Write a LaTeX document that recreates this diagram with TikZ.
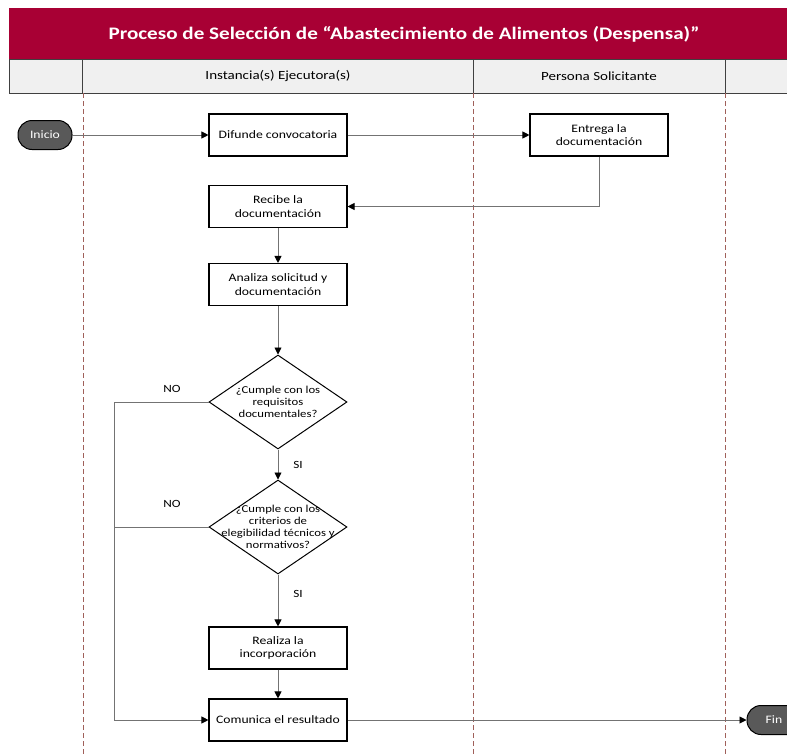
\documentclass[tikz,border=0pt]{standalone}
\usepackage{fontspec}
\setmainfont{Carlito}[FakeStretch=1.2]
\usetikzlibrary{shapes.geometric,arrows.meta}
\definecolor{vino}{RGB}{168,0,52}
\definecolor{carril}{RGB}{160,96,90}
\definecolor{cabeza}{RGB}{240,240,240}
\definecolor{terminal}{RGB}{89,89,89}
\definecolor{linea}{RGB}{115,115,115}
\begin{document}
\begin{tikzpicture}[x=1pt,y=-1pt,
    proceso/.style={draw=black,line width=1.1pt,fill=white,minimum width=138pt,minimum height=42pt,inner sep=2pt,align=center,font=\fontsize{11.4}{13.5}\selectfont},
    limite/.style={draw=black,line width=1pt,fill=terminal,rounded corners=14pt,minimum width=54pt,minimum height=29pt,text=white,font=\fontsize{11.4}{13}\selectfont},
    decision/.style={diamond,draw=black,line width=1pt,minimum width=138pt,minimum height=94pt,inner sep=0pt},
    texto/.style={align=center,font=\fontsize{10.6}{12}\selectfont},
    etiqueta/.style={font=\fontsize{11}{13}\selectfont},
    flecha/.style={draw=linea,line width=0.9pt,-{Triangle[length=7pt,width=7pt,color=black]}},
    linea/.style={draw=linea,line width=0.9pt}]  % seleccion despensa
	\clip (0,0) rectangle (787,755);
	% encabezado
	\fill[vino] (9,8) rectangle (787,59);
	\node[text=white,font=\fontsize{17.6}{21}\bfseries\selectfont] (titulo) at (404,34) {Proceso de Selección de “Abastecimiento de Alimentos (Despensa)”};
	\foreach \a/\b in {9/82,82/473,473/725,725/795}
		\draw[fill=cabeza,draw=black!75,line width=1pt] (\a,59) rectangle (\b,93);
	\node[font=\fontsize{12.5}{14}\selectfont] (instancia) at (278,76) {Instancia(s) Ejecutora(s)};
	\node[font=\fontsize{12.5}{14}\selectfont] (persona) at (599,76) {Persona Solicitante};
	\foreach \x in {83,473,725}
		\draw[carril,line width=0.8pt,dash pattern=on 5pt off 3pt] (\x,93) -- (\x,755);
	% nodos
	\node[limite] (inicio) at (45,135) {Inicio};
	\node[proceso] (difunde) at (278,135) {Difunde convocatoria};
	\node[proceso] (entrega) at (599,135) {Entrega la\\documentación};
	\node[proceso] (recibe) at (278,206.5) {Recibe la\\documentación};
	\node[proceso] (analiza) at (278,284.5) {Analiza solicitud y\\documentación};
	\node[decision] (req) at (278,402) {};
	\node[texto] at (req) {¿Cumple con los\\requisitos\\documentales?};
	\node[decision] (crit) at (278,527) {};
	\node[texto] at (crit) {¿Cumple con los\\criterios de\\elegibilidad técnicos y\\normativos?};
	\node[proceso] (realiza) at (278,648) {Realiza la\\incorporación};
	\node[proceso] (comunica) at (278,720) {Comunica el resultado};
	\node[limite] (fin) at (774,720) {Fin};
	\coordinate (izq) at (114,402);
	% conectores
	\draw[flecha] (inicio) -- (difunde);
	\draw[flecha] (difunde) -- (entrega);
	\draw[flecha] (entrega.south) |- (recibe.east);
	\draw[flecha] (recibe) -- (analiza);
	\draw[flecha] (analiza) -- (req.north);
	\draw[flecha] (req.south) -- (crit.north);
	\draw[flecha] (crit.south) -- (realiza);
	\draw[flecha] (realiza) -- (comunica);
	\draw[flecha] (req.west) -- (izq) |- (comunica.west);
	\draw[linea] (crit.west) -- (crit.west -| izq);
	\draw[flecha] (comunica) -- (fin);
	\node[etiqueta] (no1) at (172,389) {NO};
	\node[etiqueta] (no2) at (172,504) {NO};
	\node[etiqueta] (si1) at (298,465) {SI};
	\node[etiqueta] (si2) at (298,594) {SI};
\end{tikzpicture}
\end{document}
